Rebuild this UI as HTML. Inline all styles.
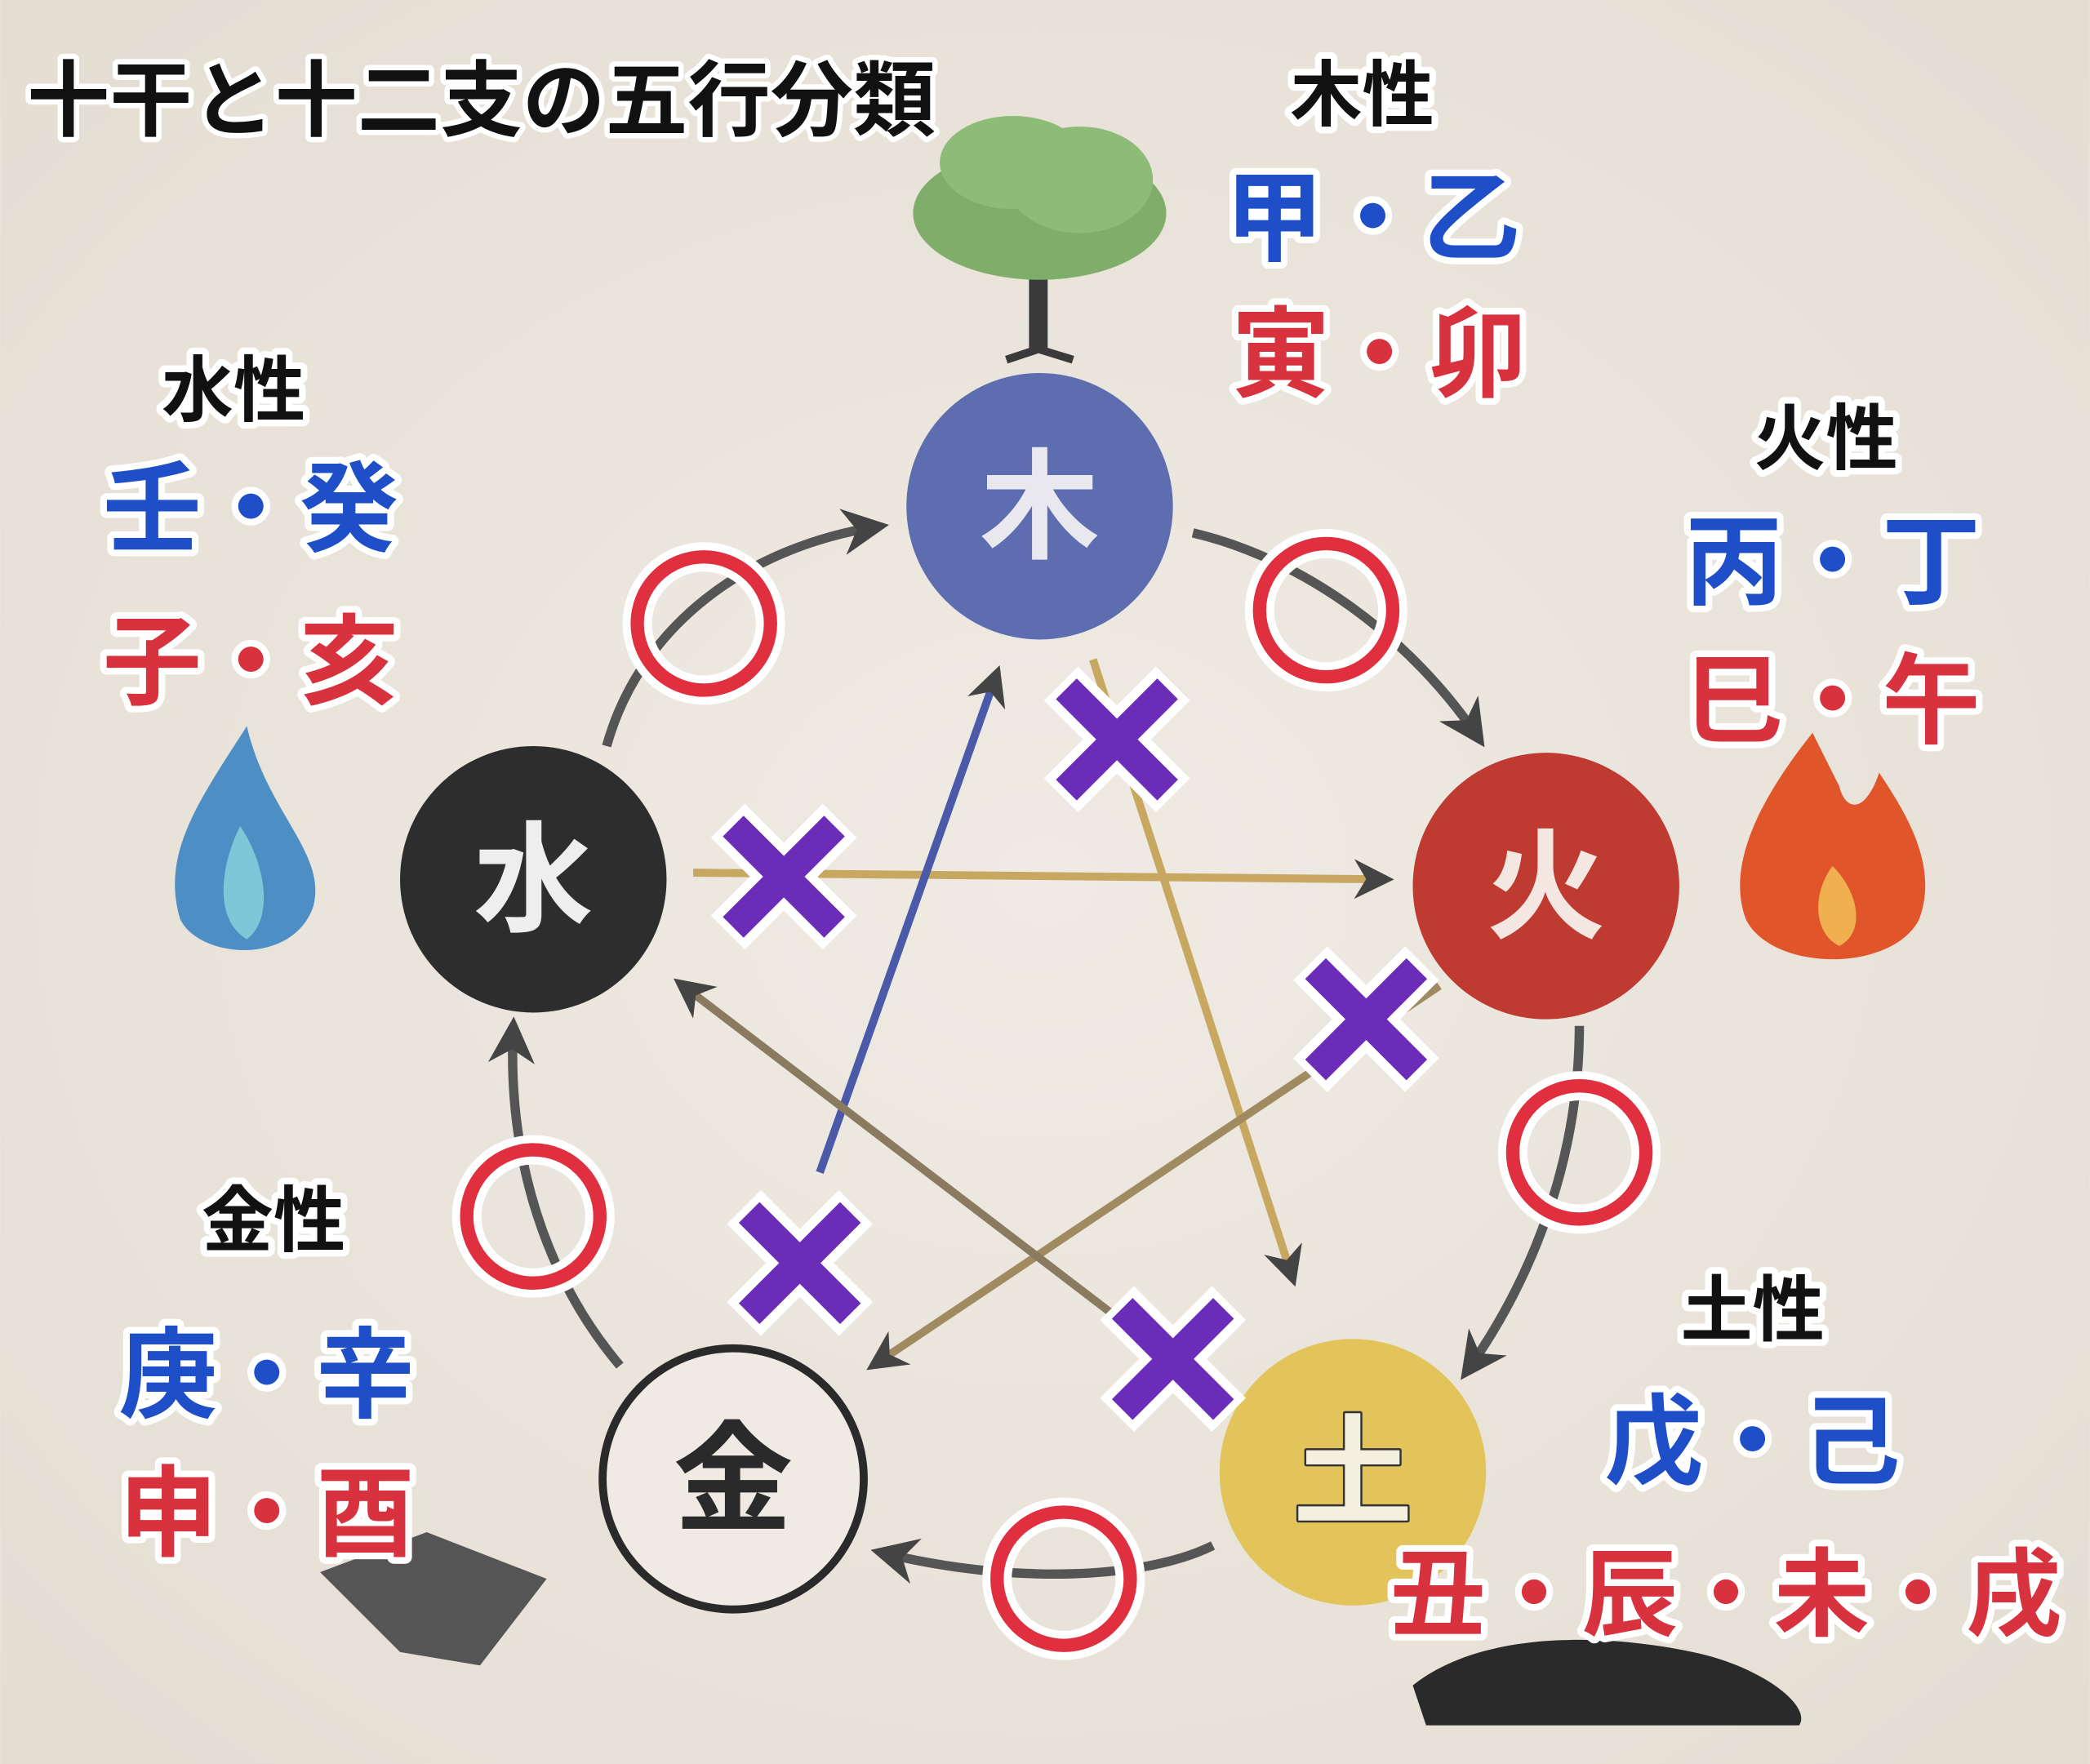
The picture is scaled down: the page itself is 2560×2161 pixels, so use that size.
<!DOCTYPE html>
<html><head><meta charset="utf-8"><style>
html,body{margin:0;padding:0;background:#ece7df;}
svg{display:block}
text{font-family:"Liberation Sans","Noto Sans CJK JP",sans-serif;font-weight:bold;paint-order:stroke;stroke:#fff;stroke-linejoin:round}
</style></head><body>
<svg width="2560" height="2161" viewBox="0 0 1568 1324" xmlns="http://www.w3.org/2000/svg">
<defs>
<marker id="ah" viewBox="0 0 10 10" refX="8" refY="5" markerWidth="5" markerHeight="5" orient="auto"><path d="M0,0 L10,5 L0,10 L3,5 z" fill="#444"/></marker>
<radialGradient id="bg" cx="50%" cy="50%" r="70%"><stop offset="0" stop-color="#efebe4"/><stop offset="1" stop-color="#e4ddd2"/></radialGradient>
</defs>
<rect width="1568" height="1324" fill="url(#bg)"/>

<g>
<rect x="772" y="195" width="14" height="70" fill="#3a3a3a"/>
<path d="M779,262 L755,270 M779,262 L805,270" stroke="#3a3a3a" stroke-width="6"/>
<ellipse cx="780" cy="160" rx="95" ry="50" fill="#7fae6a"/>
<ellipse cx="760" cy="122" rx="55" ry="35" fill="#8dbb78"/>
<ellipse cx="810" cy="135" rx="55" ry="40" fill="#8dbb78"/>
<path d="M185,545 C150,600 120,640 135,690 C150,720 220,725 235,680 C245,640 200,610 185,545z" fill="#4d8fc4"/>
<path d="M180,620 C165,650 160,690 185,705 C205,690 200,650 180,620z" fill="#7cc7d8"/>
<path d="M1360,550 C1320,600 1295,650 1310,690 C1330,730 1420,730 1440,690 C1455,650 1430,610 1410,580 C1400,610 1385,610 1380,590z" fill="#e0552a"/>
<path d="M1375,650 C1360,670 1360,700 1380,710 C1400,700 1395,670 1375,650z" fill="#f0b050"/>
<path d="M240,1180 L320,1150 L410,1185 L360,1250 L300,1240z" fill="#555"/>
<path d="M1060,1265 C1110,1225 1200,1225 1270,1240 C1320,1250 1360,1280 1350,1295 L1070,1295z" fill="#2a2a2a"/>
</g>

<g fill="none" stroke="#555" stroke-width="7" marker-end="url(#ah)">
<path d="M455,560 C480,470 560,410 660,395"/>
<path d="M895,400 C980,420 1060,480 1110,555"/>
<path d="M1185,770 C1185,870 1150,960 1100,1030"/>
<path d="M910,1160 C860,1185 760,1190 660,1165"/>
<path d="M465,1025 C410,960 380,870 385,770"/>
</g>
<g fill="none" stroke-width="6" marker-end="url(#ah)">
<path d="M520,655 L1040,660" stroke="#c8a860"/>
<path d="M615,880 L748,505" stroke="#4a5aa8"/>
<path d="M820,495 L970,960" stroke="#c8a860"/>
<path d="M1080,740 L655,1025" stroke="#a08a60"/>
<path d="M905,1040 L510,738" stroke="#8a7a60"/>
</g>

<circle cx="780" cy="380" r="100" fill="#5e6db0"/>
<circle cx="1160" cy="665" r="100" fill="#bf3a30"/>
<circle cx="1015" cy="1105" r="100" fill="#e2c45a"/>
<circle cx="550" cy="1110" r="98" fill="#efebe4" stroke="#2a2a2a" stroke-width="6"/>
<circle cx="400" cy="660" r="100" fill="#2d2d2d"/>
<g style="stroke:none" font-size="90" text-anchor="middle">
<text x="780" y="412" fill="#e8e8ee" style="stroke:none">木</text>
<text x="1160" y="697" fill="#f4e6e0" style="stroke:none">火</text>
<text x="1015" y="1137" fill="#f4f0e0" style="stroke:#333;stroke-width:3">土</text>
<text x="550" y="1142" fill="#2a2a2a" style="stroke:none">金</text>
<text x="400" y="692" fill="#eee" style="stroke:none">水</text>
</g>

<g fill="none" stroke="#fff" stroke-width="22">
<circle cx="528" cy="468" r="50"/><circle cx="995" cy="458" r="50"/><circle cx="1185" cy="865" r="50"/><circle cx="400" cy="913" r="50"/><circle cx="798" cy="1185" r="50"/>
</g>
<g fill="none" stroke="#e0303f" stroke-width="10">
<circle cx="528" cy="468" r="50"/><circle cx="995" cy="458" r="50"/><circle cx="1185" cy="865" r="50"/><circle cx="400" cy="913" r="50"/><circle cx="798" cy="1185" r="50"/>
</g>

<g stroke-linecap="butt">
<g transform="translate(838,555)"><path d="M-42,-42 L42,42 M42,-42 L-42,42" stroke="#fff" stroke-width="36"/><path d="M-38,-38 L38,38 M38,-38 L-38,38" stroke="#6b2cb8" stroke-width="22"/></g>
<g transform="translate(588,658)"><path d="M-42,-42 L42,42 M42,-42 L-42,42" stroke="#fff" stroke-width="36"/><path d="M-38,-38 L38,38 M38,-38 L-38,38" stroke="#6b2cb8" stroke-width="22"/></g>
<g transform="translate(1025,765)"><path d="M-42,-42 L42,42 M42,-42 L-42,42" stroke="#fff" stroke-width="36"/><path d="M-38,-38 L38,38 M38,-38 L-38,38" stroke="#6b2cb8" stroke-width="22"/></g>
<g transform="translate(600,948)"><path d="M-42,-42 L42,42 M42,-42 L-42,42" stroke="#fff" stroke-width="36"/><path d="M-38,-38 L38,38 M38,-38 L-38,38" stroke="#6b2cb8" stroke-width="22"/></g>
<g transform="translate(880,1020)"><path d="M-42,-42 L42,42 M42,-42 L-42,42" stroke="#fff" stroke-width="36"/><path d="M-38,-38 L38,38 M38,-38 L-38,38" stroke="#6b2cb8" stroke-width="22"/></g>
</g>

<text x="20" y="97" font-size="62" fill="#111" stroke-width="8">十干と十二支の五行分類</text>
<g text-anchor="middle" stroke-width="10">
<text x="1022" y="90" font-size="54" fill="#111">木性</text>
<text x="1030" y="190" font-size="74" fill="#1f4fc8">甲・乙</text>
<text x="1035" y="292" font-size="74" fill="#d8323f">寅・卯</text>

<text x="175" y="312" font-size="54" fill="#111">水性</text>
<text x="188" y="408" font-size="74" fill="#1f4fc8">壬・癸</text>
<text x="188" y="523" font-size="74" fill="#d8323f">子・亥</text>

<text x="1370" y="348" font-size="54" fill="#111">火性</text>
<text x="1375" y="448" font-size="74" fill="#1f4fc8">丙・丁</text>
<text x="1375" y="552" font-size="74" fill="#d8323f">巳・午</text>

<text x="205" y="935" font-size="54" fill="#111">金性</text>
<text x="200" y="1058" font-size="74" fill="#1f4fc8">庚・辛</text>
<text x="200" y="1162" font-size="74" fill="#d8323f">申・酉</text>

<text x="1315" y="1002" font-size="54" fill="#111">土性</text>
<text x="1315" y="1108" font-size="74" fill="#1f4fc8">戊・己</text>
<text x="1295" y="1222" font-size="72" fill="#d8323f">丑・辰・未・戌</text>
</g>
</svg>
</body></html>
